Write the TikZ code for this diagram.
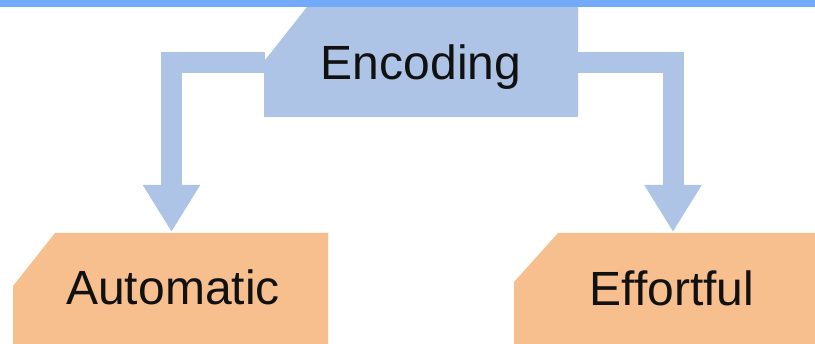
\documentclass[tikz,border=0pt]{standalone}
\usepackage{fontspec}
\setmainfont{Liberation Sans}
\usetikzlibrary{arrows.meta}
\definecolor{bluefill}{HTML}{AEC4E6}
\definecolor{orangefill}{HTML}{F7BF8E}
\definecolor{bandblue}{HTML}{72A9F8}
\definecolor{ink}{HTML}{111111}
\tikzset{
  txt/.style={font=\fontsize{48}{58}\selectfont, text=ink, inner sep=0pt, anchor=base},
  flow/.style={draw=bluefill, line width=21pt,
    -{Triangle[width=54pt,length=47pt]}},
}
\begin{document}
\begin{tikzpicture}[x=1pt,y=-1pt]
\useasboundingbox (0,0) rectangle (815,344);
\fill[white] (0,0) rectangle (815,344);
% boxes
\fill[bluefill] (264,117) -- (264,61.4) -- (312.5,0) -- (578,0) -- (578,117) -- cycle;
\fill[orangefill] (13,344) -- (13,286) -- (55,233) -- (328,233) -- (328,344) -- cycle;
\fill[orangefill] (514,344) -- (514,282) -- (558,233) -- (815,233) -- (815,344) -- cycle;
% texts
\node[txt] (enc) at (421,80) {Encoding};
\node[txt] (auto) at (173,305) {Automatic};
\node[txt] (eff) at (672,306) {Effortful};
% connector ends
\coordinate (encL) at (265,62.5);
\coordinate (encR) at (577,62.5);
\coordinate (autoTop) at (171.5,232);
\coordinate (effTop) at (673,232);
\draw[flow] (encL) -| (autoTop);
\draw[flow] (encR) -| (effTop);
% top band
\fill[bandblue] (0,0) rectangle (815,7);
\end{tikzpicture}
\end{document}
